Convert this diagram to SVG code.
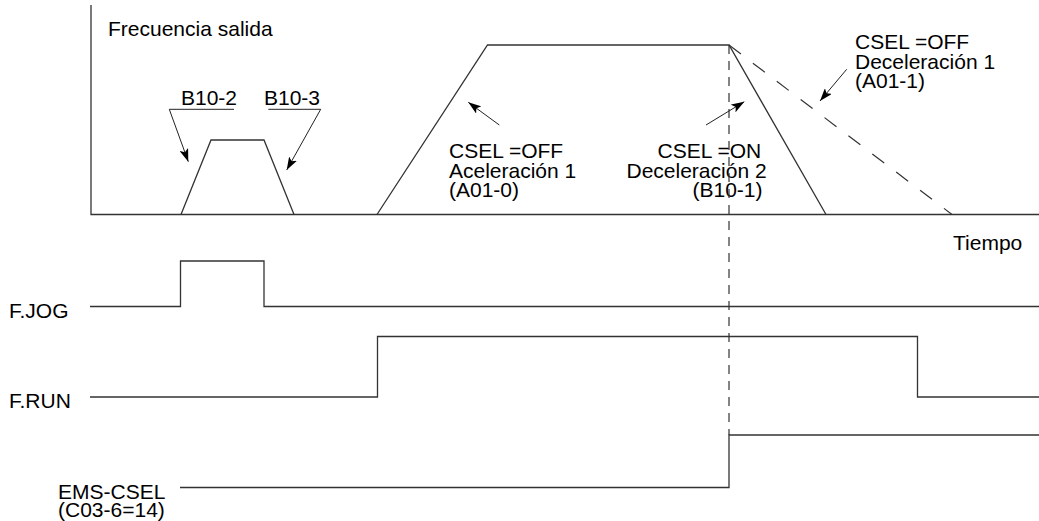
<svg xmlns="http://www.w3.org/2000/svg" width="1039" height="521" viewBox="0 0 1039 521">
<style>
text{font-family:"Liberation Sans",Arial,sans-serif;font-size:21px;fill:#000}
.ln{fill:none;stroke:#333;stroke-width:1.3}
.th{fill:none;stroke:#222;stroke-width:1}
.dv{fill:none;stroke:#333;stroke-width:1.2;stroke-dasharray:9 7}
.dd{fill:none;stroke:#333;stroke-width:1.2;stroke-dasharray:15 15}
.ar{fill:none;stroke:#222;stroke-width:1;marker-end:url(#ah)}
</style>
<defs>
<marker id="ah" markerUnits="userSpaceOnUse" viewBox="0 0 13 9" refX="13" refY="4.5" markerWidth="13" markerHeight="9" orient="auto">
<path d="M0,0 L13,4.5 L0,9 L3,4.5 z" fill="#000"/>
</marker>
</defs>
<rect width="1039" height="521" fill="#fff"/>
<g id="axes">
<path class="ln" d="M91,5 V214.5 H1039"/>
<text x="108" y="36">Frecuencia salida</text>
<text x="953" y="250">Tiempo</text>
</g>
<g id="freq-jog">
<path class="ln" d="M181,214.5 L211,140 H264 L294,214.5"/>
</g>
<g id="freq-run">
<path class="ln" d="M377,214.5 L487.5,45 H729 L826,214.5"/>
<path class="dd" d="M729,45 L952,214.5"/>
</g>
<g id="label-b10-2">
<text x="181" y="105">B10-2</text>
</g>
<g id="label-b10-3">
<text x="264" y="105">B10-3</text>
</g>
<g id="label-acel1">
<text x="449" y="158">CSEL =OFF<tspan x="449" y="177.5">Aceleración 1</tspan><tspan x="449" y="197">(A01-0)</tspan></text>
</g>
<g id="label-decel2">
<text x="657.5" y="158">CSEL =ON<tspan x="626.5" y="177.5">Deceleración 2</tspan><tspan x="692.5" y="197">(B10-1)</tspan></text>
</g>
<g id="label-decel1">
<text x="855" y="49">CSEL =OFF<tspan x="855" y="68.5">Deceleración 1</tspan><tspan x="855" y="88">(A01-1)</tspan></text>
</g>
<g id="signal-fjog">
<text x="9" y="318">F.JOG</text>
<path class="ln" d="M90,306.5 H180.5 V261 H264 V306.5 H1039"/>
</g>
<g id="signal-frun">
<text x="9" y="408">F.RUN</text>
<path class="ln" d="M90,397 H377.5 V336.5 H917.5 V397 H1039"/>
</g>
<g id="signal-ems-csel">
<text x="58" y="499">EMS-CSEL<tspan x="58" y="517">(C03-6=14)</tspan></text>
<path class="ln" d="M180,487.5 H729 V435 H1039"/>
</g>
<g id="connectors">
<path class="dv" d="M729,45 V435"/>
<path class="th" d="M234,109.3 H169.3"/>
<path class="ar" d="M169.3,109.3 L188.3,161.7"/>
<path class="th" d="M268.3,109.3 H320.7"/>
<path class="ar" d="M320.7,109.3 L286.7,170"/>
<path class="ar" d="M499.3,125 L468.3,102.3"/>
<path class="ar" d="M706,125 L744.3,101.7"/>
<path class="ar" d="M846.7,69.3 L820,101"/>
</g>
</svg>
